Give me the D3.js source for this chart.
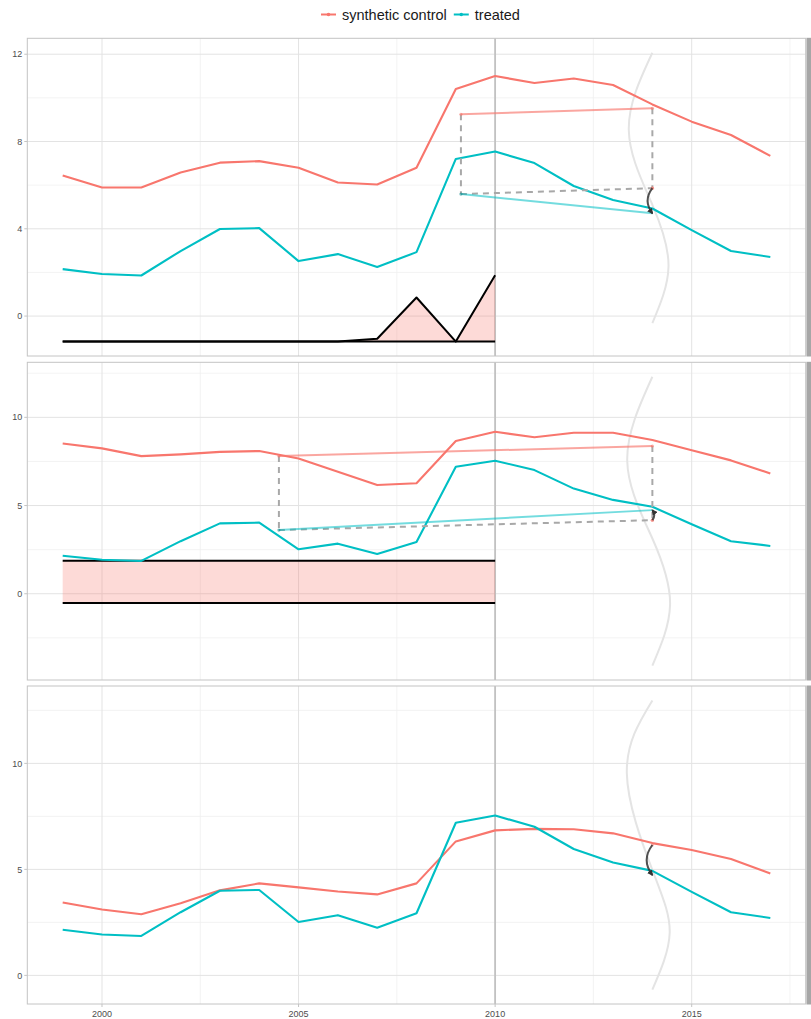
<!DOCTYPE html>
<html>
<head>
<meta charset="utf-8">
<script src="https://cdn.jsdelivr.net/npm/d3@7"></script>
<style>
  html, body { margin: 0; padding: 0; background: #fff; }
  svg { display: block; font-family: "Liberation Sans", Arial, sans-serif; }
</style>
</head>
<body>
<svg id="chart" width="811" height="1019"></svg>
<script>
// ---- data -------------------------------------------------------------
const years = [1999, 2000, 2001, 2002, 2003, 2004, 2005, 2006, 2007, 2008,
               2009, 2010, 2011, 2012, 2013, 2014, 2015, 2016, 2017];

const treated = [2.15, 1.93, 1.86, 2.98, 3.99, 4.03, 2.52, 2.84, 2.25, 2.93,
                 7.20, 7.54, 7.01, 5.96, 5.32, 4.93, 3.94, 2.98, 2.71];

// synthetic control, one series per facet
const synthA = [6.44, 5.89, 5.89, 6.58, 7.03, 7.10, 6.80, 6.12, 6.03, 6.80,
                10.41, 11.00, 10.68, 10.89, 10.59, 9.70, 8.91, 8.30, 7.34];
const synthB = [8.52, 8.24, 7.80, 7.90, 8.04, 8.09, 7.67, 6.92, 6.16, 6.26,
                8.66, 9.18, 8.87, 9.13, 9.13, 8.71, 8.13, 7.56, 6.82];
const synthC = [3.44, 3.11, 2.88, 3.40, 4.01, 4.34, 4.15, 3.96, 3.82, 4.34,
                6.32, 6.84, 6.91, 6.89, 6.70, 6.24, 5.91, 5.49, 4.81];

// pre-treatment fit (facet 1): squared-gap profile over a baseline
const fitYears = [1999, 2000, 2001, 2002, 2003, 2004, 2005, 2006, 2007, 2008, 2009, 2010];
const fitGapA  = [-1.17, -1.17, -1.17, -1.17, -1.17, -1.17, -1.17, -1.17, -1.04, 0.85, -1.17, 1.87];
const fitBaseA = -1.17;
// pre-treatment band (facet 2)
const bandLowB = -0.53;
const bandHighB = 1.87;

// comparison segments: [start year, end year]
const segYearsA = [2009.13, 2014];
const segSynthA = [9.25, 9.52];
const segTreatA = [5.59, 4.71];
const segYearsB = [2004.5, 2014];
const segSynthB = [7.81, 8.37];
const segTreatB = [3.61, 4.74];

// effect arrows at 2014: [from, to]
const arrowA = [5.86, 4.71];
const arrowB = [4.17, 4.74];
const arrowC = [6.15, 4.73];

// distribution outline drawn around 2014, [year, value]
const outlineA = [[2014, 12.07], [2013.40, 8.53], [2014, 5.10], [2014.41, 2.25], [2014, -0.32]];
const outlineB = [[2014, 12.30], [2013.36, 7.55], [2014, 3.13], [2014.45, -0.63], [2014, -4.07]];
const outlineC = [[2014, 12.97], [2013.35, 9.54], [2014, 4.97], [2014.44, 2.00], [2014, -0.67]];

const treatYear = 2010;
const xTicks = [2000, 2005, 2010, 2015];
const xMinor = [2002.5, 2007.5, 2012.5, 2017.5];
const legendLabels = ["synthetic control", "treated"];

// ---- layout -----------------------------------------------------------
const RED = "#F8766D", TEAL = "#00BFC4";
const svg = d3.select("#chart");
const left = 27.3, right = 805.7;
const x = d3.scaleLinear().domain([1998.1, 2017.9]).range([left, right]);

const panels = [
  { top: 38.3, bottom: 356, domain: [-1.83, 12.73], ticks: [0, 4, 8, 12], minor: [2, 6, 10],
    synth: synthA, outline: outlineA, arrow: arrowA },
  { top: 362.3, bottom: 680, domain: [-4.89, 13.12], ticks: [0, 5, 10], minor: [-2.5, 2.5, 7.5, 12.5],
    synth: synthB, outline: outlineB, arrow: arrowB },
  { top: 686, bottom: 1004, domain: [-1.35, 13.65], ticks: [0, 5, 10], minor: [2.5, 7.5, 12.5],
    synth: synthC, outline: outlineC, arrow: arrowC }
];

const defs = svg.append("defs");
defs.append("marker")
  .attr("id", "head")
  .attr("viewBox", "0 0 10 10")
  .attr("refX", 8).attr("refY", 5)
  .attr("markerWidth", 6).attr("markerHeight", 6)
  .attr("markerUnits", "userSpaceOnUse")
  .attr("orient", "auto")
  .append("path")
  .attr("d", "M0,0 L10,5 L0,10 Z")
  .attr("fill", "#333");

panels.forEach((p, i) => {
  const y = d3.scaleLinear().domain(p.domain).range([p.bottom, p.top]);
  const g = svg.append("g");
  const clipId = "clip" + i;
  defs.append("clipPath").attr("id", clipId)
    .append("rect").attr("x", left).attr("y", p.top)
    .attr("width", right - left).attr("height", p.bottom - p.top);

  // grid
  const grid = g.append("g");
  grid.selectAll(".ymin").data(p.minor).join("line")
    .attr("x1", left).attr("x2", right)
    .attr("y1", d => y(d)).attr("y2", d => y(d))
    .attr("stroke", "#F0F0F0").attr("stroke-width", 0.8);
  grid.selectAll(".xmin").data(xMinor).join("line")
    .attr("x1", d => x(d)).attr("x2", d => x(d))
    .attr("y1", p.top).attr("y2", p.bottom)
    .attr("stroke", "#F0F0F0").attr("stroke-width", 0.8);
  grid.selectAll(".ymaj").data(p.ticks).join("line")
    .attr("x1", left).attr("x2", right)
    .attr("y1", d => y(d)).attr("y2", d => y(d))
    .attr("stroke", "#E3E3E3").attr("stroke-width", 1);
  grid.selectAll(".xmaj").data(xTicks).join("line")
    .attr("x1", d => x(d)).attr("x2", d => x(d))
    .attr("y1", p.top).attr("y2", p.bottom)
    .attr("stroke", "#E3E3E3").attr("stroke-width", 1);

  const plot = g.append("g").attr("clip-path", `url(#${clipId})`);

  // distribution outline
  plot.append("path")
    .datum(p.outline)
    .attr("d", d3.line().x(d => x(d[0])).y(d => y(d[1])).curve(d3.curveNatural))
    .attr("fill", "none").attr("stroke", "#E4E4E4").attr("stroke-width", 2);

  // treatment year marker
  plot.append("line")
    .attr("x1", x(treatYear)).attr("x2", x(treatYear))
    .attr("y1", p.top).attr("y2", p.bottom)
    .attr("stroke", "#C2C2C2").attr("stroke-width", 1.8);

  // pre-treatment fit marks
  if (i === 0) {
    const fit = fitYears.map((yr, k) => [yr, fitGapA[k]]);
    plot.append("path").datum(fit)
      .attr("d", d3.area().x(d => x(d[0])).y0(y(fitBaseA)).y1(d => y(d[1])))
      .attr("fill", RED).attr("fill-opacity", 0.27);
    plot.append("line")
      .attr("x1", x(fitYears[0])).attr("x2", x(fitYears[fitYears.length - 1]))
      .attr("y1", y(fitBaseA)).attr("y2", y(fitBaseA))
      .attr("stroke", "#000").attr("stroke-width", 2);
    plot.append("path").datum(fit)
      .attr("d", d3.line().x(d => x(d[0])).y(d => y(d[1])))
      .attr("fill", "none").attr("stroke", "#000").attr("stroke-width", 2)
      .attr("stroke-linejoin", "round");
  }
  if (i === 1) {
    const x0 = x(fitYears[0]), x1 = x(fitYears[fitYears.length - 1]);
    plot.append("rect")
      .attr("x", x0).attr("width", x1 - x0)
      .attr("y", y(bandHighB)).attr("height", y(bandLowB) - y(bandHighB))
      .attr("fill", RED).attr("fill-opacity", 0.27);
    [bandHighB, bandLowB].forEach(v => {
      plot.append("line")
        .attr("x1", x0).attr("x2", x1)
        .attr("y1", y(v)).attr("y2", y(v))
        .attr("stroke", "#000").attr("stroke-width", 2);
    });
  }

  // series
  const line = d3.line().x((d, k) => x(years[k])).y(d => y(d));
  plot.append("path").datum(p.synth).attr("d", line)
    .attr("fill", "none").attr("stroke", RED).attr("stroke-width", 2.1)
    .attr("stroke-linejoin", "round");
  plot.append("path").datum(treated).attr("d", line)
    .attr("fill", "none").attr("stroke", TEAL).attr("stroke-width", 2.1)
    .attr("stroke-linejoin", "round");

  // comparison segments
  if (i < 2) {
    const yrs = i === 0 ? segYearsA : segYearsB;
    const s = i === 0 ? segSynthA : segSynthB;
    const t = i === 0 ? segTreatA : segTreatB;
    const shifted = t[0] + (s[1] - s[0]);
    const dash = (xa, ya, xb, yb) => plot.append("line")
      .attr("x1", x(xa)).attr("y1", y(ya)).attr("x2", x(xb)).attr("y2", y(yb))
      .attr("stroke", "#A8A8A8").attr("stroke-width", 2).attr("stroke-dasharray", "6,5");
    dash(yrs[0], s[0], yrs[0], t[0]);
    dash(yrs[1], s[1], yrs[1], shifted);
    dash(yrs[0], t[0], yrs[1], shifted);
    plot.append("line")
      .attr("x1", x(yrs[0])).attr("y1", y(s[0])).attr("x2", x(yrs[1])).attr("y2", y(s[1]))
      .attr("stroke", RED).attr("stroke-opacity", 0.65).attr("stroke-width", 2);
    plot.append("line")
      .attr("x1", x(yrs[0])).attr("y1", y(t[0])).attr("x2", x(yrs[1])).attr("y2", y(t[1]))
      .attr("stroke", TEAL).attr("stroke-opacity", 0.55).attr("stroke-width", 2);
    const dots = [[yrs[0], s[0], RED], [yrs[1], s[1], RED], [yrs[1], shifted, RED],
                  [yrs[0], t[0], "#1A8F92"]];
    plot.selectAll(".dot").data(dots).join("circle")
      .attr("cx", d => x(d[0])).attr("cy", d => y(d[1])).attr("r", 1.6)
      .attr("fill", d => d[2]).attr("fill-opacity", 0.6);
  }

  // effect arrow
  const ax = x(2014), ay0 = y(p.arrow[0]), ay1 = y(p.arrow[1]);
  const dy = ay1 - ay0;
  const cx = ax - 0.38 * dy;
  plot.append("circle").attr("cx", ax).attr("cy", ay0).attr("r", 1.6)
    .attr("fill", RED).attr("fill-opacity", 0.5);
  plot.append("path")
    .attr("d", `M${ax},${ay0} Q${cx},${(ay0 + ay1) / 2} ${ax},${ay1}`)
    .attr("fill", "none").attr("stroke", "#333").attr("stroke-opacity", 0.85)
    .attr("stroke-width", 2).attr("marker-end", "url(#head)");

  // panel border
  g.append("rect")
    .attr("x", left).attr("y", p.top)
    .attr("width", right - left).attr("height", p.bottom - p.top)
    .attr("fill", "none").attr("stroke", "#C4C4C4").attr("stroke-width", 1);

  // facet strip on the right
  g.append("rect")
    .attr("x", right + 0.8).attr("y", p.top - 0.5)
    .attr("width", 20).attr("height", p.bottom - p.top + 1)
    .attr("fill", "#A6A6A6");

  // y axis
  g.selectAll(".ytick").data(p.ticks).join("line")
    .attr("x1", left - 3).attr("x2", left)
    .attr("y1", d => y(d)).attr("y2", d => y(d))
    .attr("stroke", "#C4C4C4");
  g.selectAll(".ylab").data(p.ticks).join("text")
    .attr("x", left - 5).attr("y", d => y(d))
    .attr("dy", "0.35em").attr("text-anchor", "end")
    .attr("font-size", 9).attr("fill", "#4D4D4D")
    .text(d => d);

  if (i === panels.length - 1) {
    g.selectAll(".xtick").data(xTicks).join("line")
      .attr("x1", d => x(d)).attr("x2", d => x(d))
      .attr("y1", p.bottom).attr("y2", p.bottom + 3)
      .attr("stroke", "#C4C4C4");
    g.selectAll(".xlab").data(xTicks).join("text")
      .attr("x", d => x(d)).attr("y", p.bottom + 12.5)
      .attr("text-anchor", "middle")
      .attr("font-size", 9).attr("fill", "#4D4D4D")
      .text(d => d);
  }
});

// ---- legend -----------------------------------------------------------
const legend = svg.append("g");
const legendColors = [RED, TEAL];
let lx = 321;
legendLabels.forEach((lab, k) => {
  const item = legend.append("g");
  item.append("line")
    .attr("x1", lx).attr("x2", lx + 15).attr("y1", 14.5).attr("y2", 14.5)
    .attr("stroke", legendColors[k]).attr("stroke-width", 2);
  item.append("circle")
    .attr("cx", lx + 7.5).attr("cy", 14.5).attr("r", 1.8)
    .attr("fill", legendColors[k]);
  const t = item.append("text")
    .attr("x", lx + 21).attr("y", 19.5)
    .attr("font-size", 14.5).attr("fill", "#1A1A1A")
    .text(lab);
  lx = lx + 21 + t.node().getComputedTextLength() + 7;
});
</script>
</body>
</html>
